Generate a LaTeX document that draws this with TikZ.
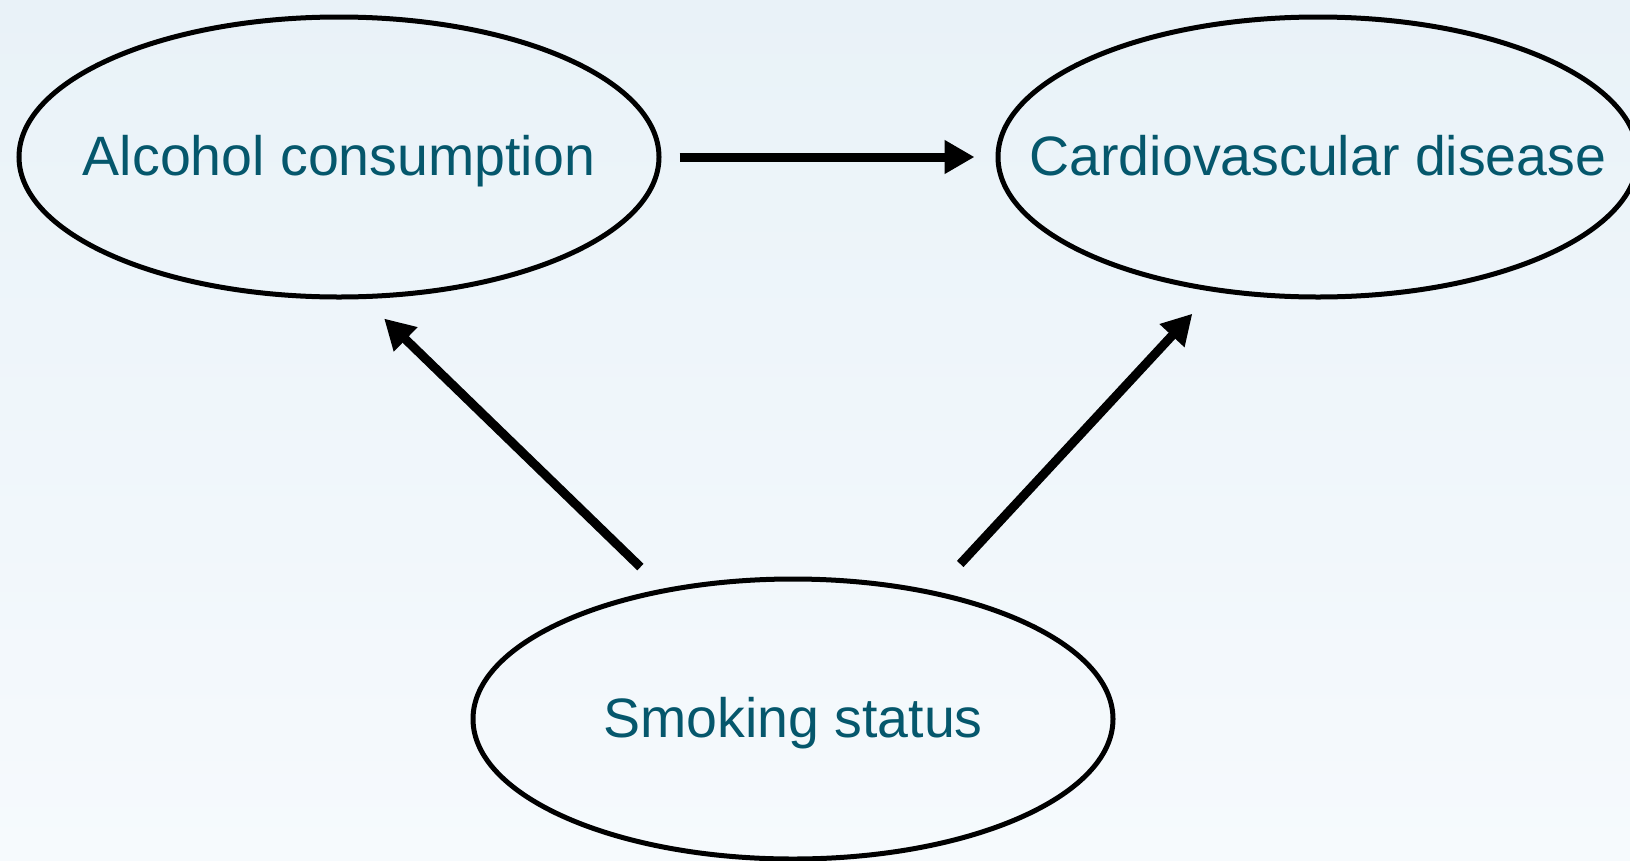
\documentclass[tikz,border=0pt]{standalone}
\usepackage{fontspec}
\setmainfont{Liberation Sans}
\usetikzlibrary{shapes.geometric,arrows.meta}
\definecolor{txtteal}{RGB}{5,87,108}
\definecolor{bgtop}{RGB}{233,242,248}
\definecolor{bgbot}{RGB}{246,250,253}
\newcommand{\zw}[1]{\makebox[0pt]{#1}}
\tikzset{
  var/.style={ellipse, draw=black, line width=5pt, minimum width=640pt, minimum height=280pt,
    inner sep=0pt, text height=36pt, text depth=0pt, text=txtteal, font=\fontsize{55.5}{64}\selectfont},
  link/.style={line width=9pt, -{Triangle[length=30pt,width=32pt]}}
}
\begin{document}
\begin{tikzpicture}[x=1pt,y=-1pt]
\useasboundingbox (0,0) rectangle (1630,860);
\clip (0,0) rectangle (1630,860);
\shade[top color=bgtop, bottom color=bgbot] (0,0) rectangle (1630,860);
\node[var] (a) at (339,157) {\zw{Alcohol consumption}};
\node[var] (c) at (1318,157) {\zw{Cardiovascular disease}};
\node[var] (s) at (793,719) {\zw{Smoking status}};
\draw[link, shorten <=18pt, shorten >=21pt] (a.0) -- (c.180);
\draw[link, shorten <=31pt, shorten >=28pt] (s.135.3) -- (a.-80.4);
\draw[link, shorten <=37pt, shorten >=30pt] (s.42.7) -- (c.-128.5);
\end{tikzpicture}
\end{document}
